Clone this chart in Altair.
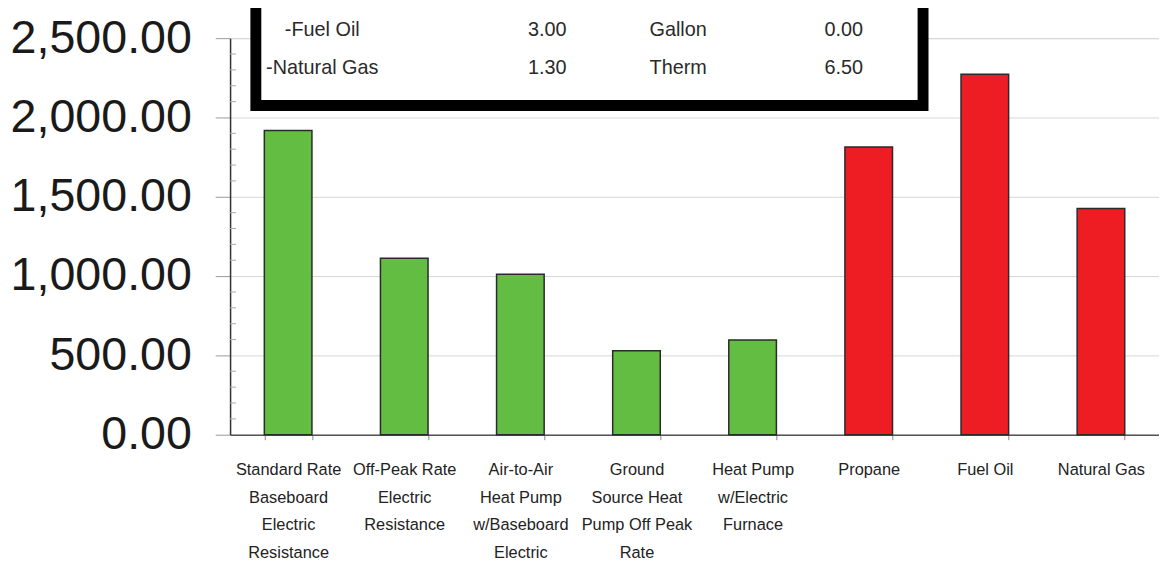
import altair as alt
import pandas as pd

# ---- data ----
categories = [
    "Standard Rate|Baseboard|Electric|Resistance",
    "Off-Peak Rate|Electric|Resistance",
    "Air-to-Air|Heat Pump|w/Baseboard|Electric",
    "Ground|Source Heat|Pump Off Peak|Rate",
    "Heat Pump|w/Electric|Furnace",
    "Propane",
    "Fuel Oil",
    "Natural Gas",
]
costs = [1918, 1112, 1012, 530, 597, 1814, 2273, 1426]
groups = ["Electric", "Electric", "Electric", "Electric", "Electric",
          "Fossil", "Fossil", "Fossil"]

y_ticks = [0, 500, 1000, 1500, 2000, 2500]
minor_ticks = [100, 200, 300, 400, 600, 700, 800, 900, 1100, 1200, 1300, 1400,
               1600, 1700, 1800, 1900, 2100, 2200, 2300, 2400]

table_rows = ["r1", "r2"]
table_fuel = ["-Fuel Oil", "-Natural Gas"]
table_price = ["3.00", "1.30"]
table_unit = ["Gallon", "Therm"]
table_amount = ["0.00", "6.50"]

bars_df = pd.DataFrame({"category": categories, "cost": costs, "group": groups})
minor_df = pd.DataFrame({"v": minor_ticks})
table_df = pd.DataFrame({"row": table_rows, "fuel": table_fuel, "price": table_price,
                         "unit": table_unit, "amount": table_amount})

FONT = "Liberation Sans"
yscale = alt.Scale(domain=[0, 2500], nice=False)

bars = alt.Chart(bars_df).mark_bar(stroke="#2a2a2a", strokeWidth=1.5).encode(
    x=alt.X("category:N", sort=categories,
            scale=alt.Scale(paddingInner=0.59, paddingOuter=0.295),
            axis=alt.Axis(title=None, labelAngle=0,
                          labelExpr="split(datum.label, '|')",
                          labelFont=FONT, labelFontSize=16.5,
                          labelLineHeight=28, labelColor="#222",
                          labelPadding=22, labelLimit=300,
                          tickBand="extent", tickSize=5, tickColor="#888",
                          domainColor="#555", domainWidth=1.5)),
    y=alt.Y("cost:Q", scale=yscale,
            axis=alt.Axis(title=None, values=y_ticks, format=",.2f",
                          labelFont=FONT, labelFontSize=47,
                          labelColor="#1a1a1a", labelPadding=24, labelLimit=400,
                          tickSize=15, tickColor="#999",
                          domainColor="#333", domainWidth=1.5,
                          gridColor="#d6d6d6", grid=True)),
    color=alt.Color("group:N",
                    scale=alt.Scale(domain=["Electric", "Fossil"],
                                    range=["#62bd42", "#ee1d23"]),
                    legend=None),
)

minor = alt.Chart(minor_df).mark_rule(color="#aaaaaa", strokeWidth=1).encode(
    y=alt.Y("v:Q", scale=yscale, axis=None),
    x=alt.value(0), x2=alt.value(6),
)

box = alt.Chart(alt.Data(values=[{"a": 1}])).mark_rect(
    fill="white", stroke="black", strokeWidth=11
).encode(
    x=alt.value(26), x2=alt.value(699), y=alt.value(-80), y2=alt.value(68)
)

row_scale = alt.Scale(type="point", domain=table_rows, range=[-8.5, 30.5], padding=0)


def col(field, xpos):
    return alt.Chart(table_df).mark_text(
        font=FONT, fontSize=20, color="#2a2a2a", align="center",
        baseline="middle"
    ).encode(
        x=alt.value(xpos),
        y=alt.Y("row:N", scale=row_scale, axis=None),
        text=f"{field}:N",
    )


chart = alt.layer(
    bars, minor, box,
    col("fuel", 93), col("price", 320), col("unit", 452), col("amount", 619),
).resolve_scale(y="independent").properties(
    width=937, height=400,
    autosize=alt.AutoSizeParams(type="none"),
    padding={"left": 224, "top": 28, "right": 0, "bottom": 130},
).configure_view(stroke="#666", strokeWidth=1.5).configure(background="white")

chart.save("out.html", embed_options={"renderer": "svg", "actions": False})
